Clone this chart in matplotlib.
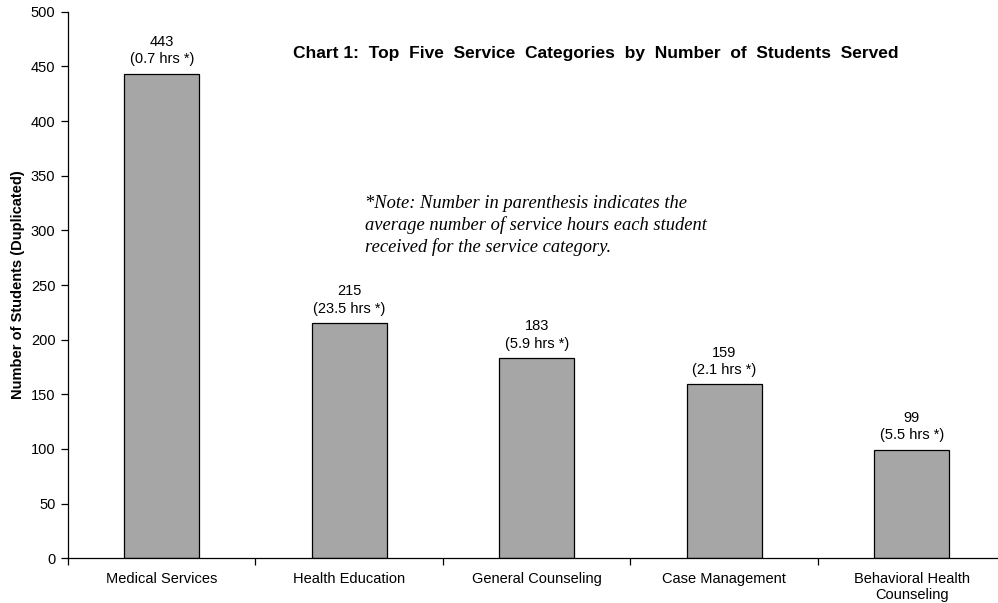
import matplotlib
matplotlib.use("Agg")
import matplotlib.pyplot as plt
import numpy as np

categories = ["Medical Services", "Health Education", "General Counseling",
              "Case Management", "Behavioral Health\nCounseling"]
students = [443, 215, 183, 159, 99]
avg_hours = [0.7, 23.5, 5.9, 2.1, 5.5]

plt.rcParams["font.family"] = ["Liberation Sans", "DejaVu Sans"]

fig = plt.figure(figsize=(9.98, 6.03), dpi=100)
ax = fig.add_axes([0.0681, 0.0741, 0.9394, 0.9065])

x = np.arange(len(categories))
ax.bar(x, students, width=0.40, color="#a6a6a6", edgecolor="black", linewidth=0.9)

for xi, v, h in zip(x, students, avg_hours):
    ax.text(xi, v + 7, f"{v}\n({h} hrs *)", ha="center", va="bottom",
            fontsize=10.5, linespacing=1.3)

ax.set_xlim(-0.5, len(categories) - 0.5)
ax.set_ylim(0, 500)
ax.set_yticks(range(0, 501, 50))
ax.set_xticks(x)
ax.set_xticklabels(categories, fontsize=10.5, linespacing=1.2)
ax.set_xticks(np.arange(-0.5, len(categories) - 0.5, 1), minor=True)
ax.tick_params(axis="x", which="major", length=0, pad=10)
ax.tick_params(axis="x", which="minor", length=5, width=0.9, direction="out")
ax.tick_params(axis="y", length=5, width=0.9, labelsize=10.5, pad=4)
for s in ["top", "right"]:
    ax.spines[s].set_visible(False)
for s in ["left", "bottom"]:
    ax.spines[s].set_linewidth(0.9)

ax.set_ylabel("Number of Students (Duplicated)", fontsize=10.5, fontweight="bold", labelpad=4)

fig.text(0.597, 0.911, "Chart 1:  Top  Five  Service  Categories  by  Number  of  Students  Served",
         ha="center", va="center", fontsize=12.5, fontweight="bold")

fig.text(0.366, 0.676,
         "*Note: Number in parenthesis indicates the\naverage number of service hours each student\nreceived for the service category.",
         ha="left", va="top", fontsize=13.3, style="italic",
         family=["Liberation Serif", "DejaVu Serif"], linespacing=1.3)

fig.savefig("out.png", dpi=100)
